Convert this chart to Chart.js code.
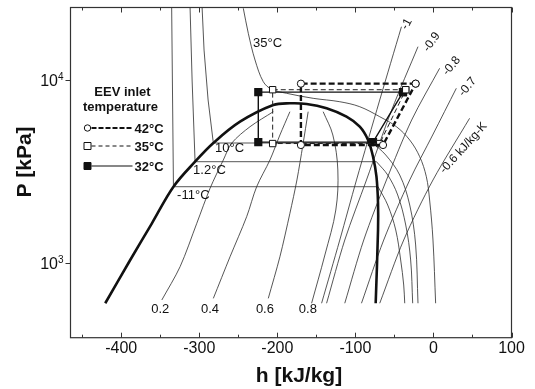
<!doctype html>
<html>
<head>
<meta charset="utf-8">
<title>P-h diagram</title>
<script src="https://cdn.jsdelivr.net/npm/chart.js"></script>
<style>
  html, body { margin: 0; padding: 0; background: #fff; }
  #wrap { width: 535px; height: 389px; }
</style>
</head>
<body>
<div id="wrap"><canvas id="phChart"></canvas></div>
<script>
// axis ticks
const xTicks = [-400, -300, -200, -100, 0, 100];
const yTicks = [1000, 10000];
const yTickExp = ["3", "4"];

// saturation dome
const domeH = [-420.5, -388.5, -360.7, -333.1, -305.4, -282, -247.8, -205.2, -183.9, -162.5, -136.9, -111.4, -94.4, -83.8, -77.4, -73, -71, -71, -74];
const domeP = [600, 1035, 1643, 2606, 3572, 4520, 5912, 7297, 7455, 7395, 6998, 6297, 5551, 4694, 3804, 2956, 2113, 1510, 600];

// isotherm 35 C
const t35H = [-243.6, -237.2, -228.6, -218, -207.3, -188.1, -154.1, -120, -94.4, -68.8, -47.4, -30.4, -17.6, -9.1, -4.9, -0.6, 2.8];
const t35P = [24690, 18010, 12870, 9788, 8895, 8457, 7940, 7606, 7143, 6297, 5551, 4694, 3804, 2956, 2204, 1331, 600];

// isotherms -11, 1.2, 10 C : liquid + two-phase part, then vapour part
const tm11H = [-335.4, -333.1, -71];
const tm11P = [24940, 2606, 2606];
const tm11vH = [-71, -58.6, -48.3, -42, -38.1, -36.8];
const tm11vP = [2606, 2069, 1510, 1035, 755, 600];
const t1H = [-311.8, -309.2, -305.4, -73];
const t1P = [24940, 10000, 3572, 3572];
const t1vH = [-73, -58.6, -45.8, -35.5, -29.2, -26.6];
const t1vP = [3572, 3020, 2348, 1608, 1035, 600];
const t10H = [-296.4, -293.9, -288.7, -282, -77.7];
const t10P = [24940, 14590, 7773, 4520, 4520];
const t10vH = [-77.7, -61.1, -43.2, -30.4, -22.8, -19.8];
const t10vP = [4520, 3886, 3020, 2069, 1250, 600];

// vapour quality lines
const q2H = [-348, -324.6, -303.2, -286.2, -269.2, -258.4, -235, -205.2];
const q2P = [625, 951, 1643, 2554, 3649, 4517, 5551, 6707];
const q4H = [-282, -260.6, -239.3, -226.5, -209.5, -196.7, -183.9];
const q4P = [638, 1078, 1786, 2606, 3649, 5000, 6707];
const q6H = [-211.6, -196.7, -183.9, -174.9, -167.3, -160.5];
const q6P = [638, 1078, 1864, 2836, 4407, 6707];
const q8H = [-156.1, -139.1, -125.1, -122.5, -128.9, -141.3];
const q8P = [600, 1102, 1943, 3217, 5000, 6707];

// isentropes (kJ/kg-K)
const s10H = [-143.3, -120, -98.6, -68.8, -41];
const s10P = [600, 1331, 2836, 7773, 19570];
const s09H = [-136.9, -113.6, -85.8, -53.5, -19.8];
const s09P = [600, 1331, 2836, 6852, 15220];
const s08H = [-113.6, -89.3, -60.2, -27.9, 7.9];
const s08P = [600, 1331, 2836, 6041, 11590];
const s07H = [-92.2, -63.7, -30.4, -1, 29.3];
const s07P = [600, 1331, 2836, 5000, 9010];
const s06H = [-68.8, -38.1, -0.6, 46.3];
const s06P = [600, 1331, 2836, 6172];

// cycles for each EEV inlet temperature
const c42H = [-22.8, -169.8, -169.8, -64.6, -22.8];
const c42P = [9550, 9550, 4407, 4407, 9550];
const c35H = [-35.5, -206, -206, -68.8, -35.5];
const c35P = [8850, 8850, 4490, 4490, 8850];
const c32H = [-39, -224.4, -224.4, -77.4, -39];
const c32P = [8580, 8580, 4570, 4570, 8580];

// text on the curves [text, h, P]
const isoLabels = [["35°C", -231.2, 15940], ["10°C", -279.8, 4245], ["1.2°C", -307.9, 3217], ["-11°C", -328.4, 2348]];
const qualLabels = [["0.2", -350.1, 558], ["0.4", -286.2, 553], ["0.6", -215.9, 558], ["0.8", -160.9, 558]];
const entLabels = [["-1", -34.3, 20250, 62], ["-0.9", -2.3, 16140, 55], ["-0.8", 23.3, 11930, 50], ["-0.7", 43.7, 9157, 50], ["-0.6 kJ/kg-K", 38.6, 4245, 48]];

const FONT = "'Liberation Sans', Arial, sans-serif";

function pts(hs, ps) {
  return hs.map((h, i) => ({ x: h, y: ps[i] }));
}

function thin(hs, ps, tension) {
  return {
    data: pts(hs, ps),
    showLine: true,
    borderColor: "#2b2b2b",
    borderWidth: 0.8,
    pointRadius: 0,
    tension: tension,
  };
}

const datasets = [
  {
    data: pts(c42H, c42P), showLine: true, borderColor: "#111", borderWidth: 2.4,
    borderDash: [6, 3], pointStyle: "circle", pointRadius: 3.6,
    pointBackgroundColor: "#fff", pointBorderColor: "#111", pointBorderWidth: 1, tension: 0,
  },
  {
    data: pts(c35H, c35P), showLine: true, borderColor: "#222", borderWidth: 1,
    borderDash: [5, 3], pointStyle: "rect", pointRadius: 4.5,
    pointBackgroundColor: "#fff", pointBorderColor: "#111", pointBorderWidth: 1, tension: 0,
  },
  {
    data: pts(c32H, c32P), showLine: true, borderColor: "#111", borderWidth: 1.4,
    pointStyle: "rect", pointRadius: 4.8,
    pointBackgroundColor: "#111", pointBorderColor: "#111", tension: 0,
  },
  { data: pts(domeH, domeP), showLine: true, borderColor: "#111", borderWidth: 2.6, pointRadius: 0, tension: 0.35 },
  thin(t35H, t35P, 0.35),
  thin(tm11H, tm11P, 0),
  thin(tm11vH, tm11vP, 0.35),
  thin(t1H, t1P, 0),
  thin(t1vH, t1vP, 0.35),
  thin(t10H, t10P, 0),
  thin(t10vH, t10vP, 0.35),
  thin(q2H, q2P, 0.3),
  thin(q4H, q4P, 0.3),
  thin(q6H, q6P, 0.3),
  thin(q8H, q8P, 0.35),
  thin(s10H, s10P, 0.3),
  thin(s09H, s09P, 0.3),
  thin(s08H, s08P, 0.3),
  thin(s07H, s07P, 0.3),
  thin(s06H, s06P, 0.3),
];

const overlay = {
  id: "overlay",
  afterDatasetsDraw(chart) {
    const { ctx, chartArea: a, scales: { x, y } } = chart;
    ctx.save();
    ctx.fillStyle = "#111";
    ctx.strokeStyle = "#333";

    // frame
    ctx.lineWidth = 1.2;
    ctx.strokeRect(a.left, a.top, a.right - a.left, a.bottom - a.top);

    // x ticks (inside, top and bottom)
    ctx.lineWidth = 1;
    for (let v = -450; v <= 100; v += 50) {
      const px = Math.round(x.getPixelForValue(v)) + 0.5;
      const len = v % 100 === 0 ? 5 : 3;
      ctx.beginPath();
      ctx.moveTo(px, a.bottom); ctx.lineTo(px, a.bottom - len);
      ctx.moveTo(px, a.top); ctx.lineTo(px, a.top + len);
      ctx.stroke();
    }
    ctx.font = "16px " + FONT;
    ctx.textAlign = "center";
    ctx.textBaseline = "middle";
    xTicks.forEach(v => ctx.fillText(String(v), x.getPixelForValue(v), a.bottom + 11));

    // y ticks (outside, left)
    yTicks.forEach((v, i) => {
      const py = Math.round(y.getPixelForValue(v)) + 0.5;
      ctx.beginPath();
      ctx.moveTo(a.left, py); ctx.lineTo(a.left - 5, py);
      ctx.stroke();
      ctx.font = "10px " + FONT;
      ctx.textAlign = "right";
      ctx.fillText(yTickExp[i], a.left - 7, py - 3);
      const ew = ctx.measureText(yTickExp[i]).width;
      ctx.font = "16px " + FONT;
      ctx.fillText("10", a.left - 7 - ew, py + 1);
    });

    // axis titles
    ctx.font = "bold 21px " + FONT;
    ctx.textAlign = "center";
    ctx.fillText("h [kJ/kg]", (a.left + a.right) / 2 + 8, 376);
    ctx.save();
    ctx.translate(25, 162);
    ctx.rotate(-Math.PI / 2);
    ctx.fillText("P [kPa]", 0, 0);
    ctx.restore();

    // curve labels
    ctx.font = "13px " + FONT;
    ctx.textAlign = "left";
    isoLabels.forEach(l => ctx.fillText(l[0], x.getPixelForValue(l[1]), y.getPixelForValue(l[2])));
    ctx.textAlign = "center";
    qualLabels.forEach(l => ctx.fillText(l[0], x.getPixelForValue(l[1]), y.getPixelForValue(l[2])));
    ctx.font = "12px " + FONT;
    entLabels.forEach(l => {
      ctx.save();
      ctx.translate(x.getPixelForValue(l[1]), y.getPixelForValue(l[2]));
      ctx.rotate(-l[3] * Math.PI / 180);
      ctx.fillText(l[0], 0, 0);
      ctx.restore();
    });

    // legend
    ctx.font = "bold 13px " + FONT;
    ctx.fillText("EEV inlet", a.left + 52, 92);
    ctx.fillText("temperature", a.left + 50, 107);
    const rows = [
      { label: "42°C", y: 128, dash: [5, 2], w: 2.2, mark: "circle", fillM: "#fff" },
      { label: "35°C", y: 146, dash: [4, 3], w: 1, mark: "rect", fillM: "#fff" },
      { label: "32°C", y: 166, dash: [], w: 1.2, mark: "rect", fillM: "#111" },
    ];
    rows.forEach(r => {
      const mx = a.left + 17;
      ctx.strokeStyle = "#111";
      ctx.lineWidth = r.w;
      ctx.setLineDash(r.dash);
      ctx.beginPath();
      ctx.moveTo(mx + 4, r.y); ctx.lineTo(a.left + 62, r.y);
      ctx.stroke();
      ctx.setLineDash([]);
      ctx.lineWidth = 1;
      ctx.fillStyle = r.fillM;
      ctx.beginPath();
      if (r.mark === "circle") ctx.arc(mx, r.y, 3.2, 0, Math.PI * 2);
      else ctx.rect(mx - 3.5, r.y - 3.5, 7, 7);
      ctx.fill();
      ctx.stroke();
      ctx.fillStyle = "#111";
      ctx.textAlign = "left";
      ctx.fillText(r.label, a.left + 64, r.y + 1);
    });

    ctx.restore();
  },
};

new Chart(document.getElementById("phChart"), {
  type: "scatter",
  data: { datasets: datasets },
  options: {
    responsive: true,
    maintainAspectRatio: false,
    animation: false,
    devicePixelRatio: 1,
    layout: { padding: { left: 70.5, right: 23.5, top: 7.5, bottom: 51.3 } },
    plugins: { legend: { display: false }, tooltip: { enabled: false } },
    scales: {
      x: { type: "linear", display: false, min: -465, max: 100 },
      y: { type: "logarithmic", display: false, min: 388.6, max: 24940 },
    },
  },
  plugins: [overlay],
});
</script>
</body>
</html>
